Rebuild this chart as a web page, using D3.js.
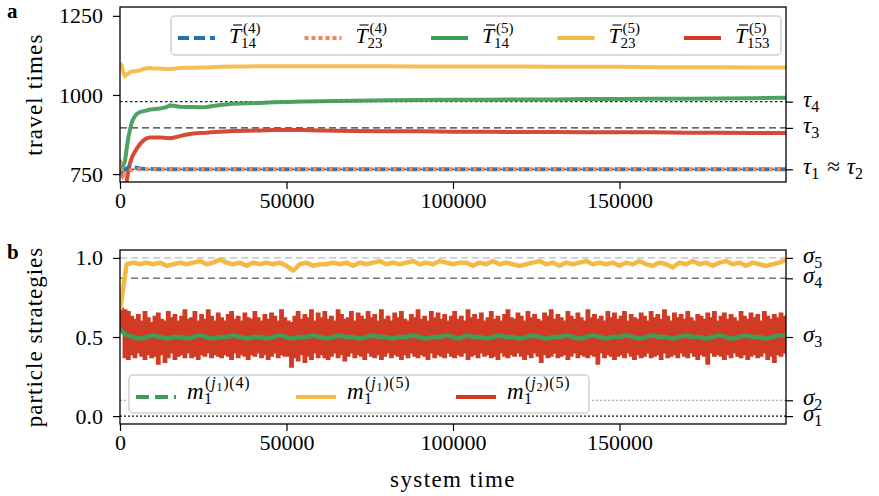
<!DOCTYPE html>
<html>
<head>
<meta charset="utf-8">
<script src="https://cdn.jsdelivr.net/npm/d3@7"></script>
<style>
  body { margin: 0; background: #fff; }
</style>
</head>
<body>
<svg id="chart" width="879" height="496"></svg>
<script>
// ---- panel a: running mean travel times ----
const tTop = [0, 500, 1000, 1500, 2000, 2500, 3000, 3500, 4000, 5000, 6000, 7000, 8000, 9000, 10000,
  12000, 14000, 15000, 16000, 18000, 20000, 22000, 24000, 26000, 28000, 30000, 34000, 38000, 42000,
  46000, 50000, 55000, 60000, 65000, 70000, 80000, 90000, 100000, 110000, 120000, 130000, 140000,
  150000, 160000, 170000, 180000, 190000, 200000];

const T14_4 = [765, 760, 762, 764, 768, 769, 770, 771, 771, 770, 768, 767, 766, 766, 766,
  765, 765, 765, 765, 765, 765, 765, 765, 765, 765, 765, 765, 765, 765,
  765, 765, 765, 765, 765, 765, 765, 765, 765, 765, 765, 765, 765,
  765, 765, 765, 765, 765, 765];
const T23_4 = [795, 770, 745, 752, 758, 760, 762, 763, 764, 765, 765, 765, 765, 765, 765,
  765, 765, 765, 765, 765, 765, 765, 765, 765, 765, 765, 765, 765, 765,
  765, 765, 765, 765, 765, 765, 765, 765, 765, 765, 765, 765, 765,
  765, 765, 765, 765, 765, 765];
const T14_5 = [770, 755, 780, 790, 830, 865, 890, 912, 925, 940, 946, 949, 951, 954, 955,
  957, 962, 967, 966, 963, 962, 962, 961, 962, 965, 968, 972, 974, 975,
  977, 978, 979, 980, 981, 982, 983, 984, 985, 985, 986, 986, 987,
  987, 988, 988, 989, 990, 991];
const T23_5 = [1100, 1095, 1070, 1060, 1065, 1068, 1072, 1074, 1075, 1076, 1078, 1082, 1084, 1085, 1084,
  1084, 1082, 1082, 1083, 1085, 1086, 1086, 1087, 1087, 1088, 1089, 1090, 1090, 1091,
  1091, 1091, 1091, 1091, 1091, 1091, 1091, 1090, 1090, 1090, 1090, 1089, 1089,
  1089, 1088, 1088, 1088, 1087, 1087];
const T153_5 = [600, 620, 660, 700, 728, 760, 785, 800, 812, 830, 845, 856, 863, 866, 866,
  866, 864, 863, 865, 870, 875, 878, 880, 881, 883, 884, 886, 887, 888,
  889, 889, 889, 888, 887, 886, 885, 885, 884, 884, 883, 883, 882,
  882, 882, 881, 881, 880, 880];

const tauValues = [979, 896, 765];

// ---- panel b: particle strategies ----
const tStrat = d3.range(0, 200001, 2000);   // sample times, 101 points
const m1j1_4 = [0.55, 0.51, 0.50, 0.49, 0.50, 0.51, 0.50, 0.49, 0.50, 0.50,
  0.49, 0.50, 0.51, 0.50, 0.49, 0.50, 0.50, 0.51, 0.50, 0.49,
  0.50, 0.50, 0.49, 0.50, 0.51, 0.50, 0.49, 0.50, 0.50, 0.51,
  0.50, 0.49, 0.50, 0.51, 0.50, 0.50, 0.49, 0.50, 0.51, 0.50,
  0.50, 0.49, 0.50, 0.50, 0.51, 0.50, 0.49, 0.50, 0.50, 0.51,
  0.50, 0.49, 0.51, 0.50, 0.50, 0.49, 0.50, 0.51, 0.50, 0.50,
  0.49, 0.50, 0.51, 0.50, 0.49, 0.50, 0.50, 0.51, 0.50, 0.49,
  0.50, 0.51, 0.50, 0.49, 0.50, 0.50, 0.51, 0.50, 0.49, 0.50,
  0.51, 0.50, 0.50, 0.49, 0.50, 0.51, 0.50, 0.50, 0.49, 0.50,
  0.51, 0.50, 0.49, 0.50, 0.51, 0.50, 0.50, 0.49, 0.50, 0.51, 0.51];
const m1j1_5 = [0.67, 0.96, 0.97, 0.96, 0.97, 0.96, 0.97, 0.95, 0.96, 0.97,
  0.96, 0.97, 0.98, 0.96, 0.97, 0.99, 0.97, 0.96, 0.97, 0.95,
  0.97, 0.96, 0.97, 0.96, 0.97, 0.95, 0.92, 0.96, 0.97, 0.95,
  0.96, 0.96, 0.97, 0.96, 0.97, 0.95, 0.97, 0.96, 0.97, 0.98,
  0.96, 0.97, 0.96, 0.97, 0.98, 0.96, 0.97, 0.96, 0.98, 0.97,
  0.96, 0.97, 0.97, 0.95, 0.97, 0.96, 0.98, 0.96, 0.97, 0.96,
  0.95, 0.96, 0.97, 0.98, 0.96, 0.97, 0.95, 0.97, 0.96, 0.97,
  0.98, 0.96, 0.97, 0.96, 0.97, 0.95, 0.97, 0.96, 0.98, 0.96,
  0.95, 0.97, 0.96, 0.94, 0.97, 0.96, 0.98, 0.96, 0.97, 0.95,
  0.97, 0.98, 0.96, 0.97, 0.95, 0.97, 0.96, 0.95, 0.96, 0.97, 0.99];

// m1^(j2)(5) fluctuates fast: upper and lower envelope read per 1000 time units
const tRed = d3.range(0, 200001, 1000);
const m1j2_5hi = [0.68, 0.67, 0.66, 0.63, 0.61, 0.64, 0.60, 0.66, 0.62, 0.59,
  0.63, 0.65, 0.61, 0.60, 0.66, 0.62, 0.64, 0.60, 0.63, 0.67,
  0.61, 0.62, 0.66, 0.60, 0.64, 0.61, 0.67, 0.63, 0.60, 0.65,
  0.62, 0.60, 0.64, 0.66, 0.61, 0.63, 0.60, 0.65, 0.62, 0.61,
  0.66, 0.62, 0.60, 0.64, 0.61, 0.65, 0.63, 0.60, 0.67, 0.62,
  0.60, 0.59, 0.63, 0.66, 0.61, 0.64, 0.62, 0.67, 0.60, 0.65,
  0.62, 0.66, 0.61, 0.63, 0.60, 0.67, 0.64, 0.61, 0.62, 0.66,
  0.60, 0.65, 0.63, 0.61, 0.66, 0.62, 0.64, 0.60, 0.67, 0.61,
  0.63, 0.60, 0.65, 0.62, 0.66, 0.61, 0.60, 0.64, 0.62, 0.67,
  0.61, 0.63, 0.60, 0.66, 0.62, 0.65, 0.61, 0.64, 0.60, 0.63,
  0.66, 0.61, 0.63, 0.60, 0.67, 0.62, 0.64, 0.61, 0.65, 0.60,
  0.62, 0.66, 0.61, 0.63, 0.60, 0.64, 0.67, 0.62, 0.61, 0.65,
  0.63, 0.60, 0.66, 0.62, 0.64, 0.61, 0.60, 0.65, 0.63, 0.67,
  0.61, 0.64, 0.62, 0.60, 0.66, 0.63, 0.61, 0.65, 0.62, 0.60,
  0.67, 0.62, 0.64, 0.61, 0.63, 0.60, 0.66, 0.62, 0.65, 0.61,
  0.63, 0.66, 0.60, 0.64, 0.62, 0.61, 0.65, 0.63, 0.60, 0.66,
  0.62, 0.64, 0.61, 0.67, 0.63, 0.60, 0.65, 0.62, 0.64, 0.61,
  0.66, 0.62, 0.60, 0.64, 0.63, 0.61, 0.65, 0.62, 0.66, 0.60,
  0.63, 0.65, 0.61, 0.64, 0.62, 0.60, 0.66, 0.63, 0.61, 0.65,
  0.62, 0.64, 0.60, 0.66, 0.63, 0.61, 0.64, 0.62, 0.65, 0.63, 0.64];
const m1j2_5lo = [0.54, 0.37, 0.36, 0.39, 0.37, 0.40, 0.38, 0.36, 0.39, 0.37,
  0.38, 0.33, 0.39, 0.34, 0.37, 0.40, 0.36, 0.38, 0.39, 0.37,
  0.40, 0.37, 0.38, 0.36, 0.39, 0.38, 0.40, 0.37, 0.39, 0.38,
  0.37, 0.39, 0.38, 0.36, 0.40, 0.37, 0.39, 0.38, 0.36, 0.39,
  0.38, 0.40, 0.37, 0.39, 0.36, 0.38, 0.40, 0.37, 0.39, 0.38,
  0.38, 0.31, 0.37, 0.35, 0.39, 0.34, 0.38, 0.36, 0.40, 0.37,
  0.39, 0.37, 0.36, 0.38, 0.40, 0.37, 0.39, 0.35, 0.38, 0.40,
  0.37, 0.39, 0.38, 0.36, 0.40, 0.38, 0.37, 0.39, 0.36, 0.38,
  0.40, 0.37, 0.39, 0.38, 0.36, 0.39, 0.37, 0.40, 0.38, 0.37,
  0.39, 0.38, 0.36, 0.40, 0.37, 0.39, 0.38, 0.37, 0.40, 0.38,
  0.37, 0.39, 0.38, 0.40, 0.36, 0.38, 0.39, 0.37, 0.40, 0.38,
  0.39, 0.37, 0.38, 0.36, 0.40, 0.38, 0.37, 0.39, 0.38, 0.40,
  0.38, 0.36, 0.39, 0.37, 0.40, 0.38, 0.34, 0.39, 0.37, 0.38,
  0.40, 0.37, 0.38, 0.39, 0.36, 0.38, 0.40, 0.37, 0.39, 0.38,
  0.37, 0.39, 0.38, 0.33, 0.40, 0.37, 0.39, 0.38, 0.36, 0.38,
  0.39, 0.37, 0.40, 0.38, 0.36, 0.39, 0.37, 0.38, 0.40, 0.37,
  0.38, 0.39, 0.36, 0.40, 0.37, 0.38, 0.39, 0.37, 0.40, 0.38,
  0.37, 0.40, 0.38, 0.36, 0.39, 0.38, 0.33, 0.40, 0.38, 0.39,
  0.38, 0.36, 0.39, 0.37, 0.40, 0.38, 0.37, 0.39, 0.36, 0.38,
  0.39, 0.37, 0.38, 0.40, 0.36, 0.38, 0.34, 0.39, 0.38, 0.40, 0.38];

const sigmaValues = [1.0, 0.871, 0.5, 0.1, 0.0];

const xTicks = [0, 50000, 100000, 150000];

const colors = {
  blue: "#2070b2", orange: "#f3865f", green: "#3f9b57", yellow: "#f4b942", red: "#d13b24"
};
const FONT = "'Liberation Serif'";

const svg = d3.select("#chart");
const x0 = 120, x1 = 786;
const x = d3.scaleLinear().domain([0, 200000]).range([x0, x1]);
const yA = d3.scaleLinear().domain([725, 1278]).range([182, 7]);
const yB = d3.scaleLinear().domain([-0.05, 1.05]).range([424, 250]);

const defs = svg.append("defs");
defs.append("clipPath").attr("id", "clipA").append("rect")
  .attr("x", x0).attr("y", 7).attr("width", x1 - x0).attr("height", 175);
defs.append("clipPath").attr("id", "clipB").append("rect")
  .attr("x", x0).attr("y", 250).attr("width", x1 - x0).attr("height", 174);

function styleAxis(g) {
  g.attr("font-family", null);
  g.select(".domain").remove();
  g.selectAll(".tick line").attr("stroke", "#000").attr("stroke-width", 1.2);
  g.selectAll(".tick text").attr("font-size", 22).attr("fill", "#000");
}

function drawAxes(yScale, yTicks, yFmt, top, bottom, rightVals) {
  svg.append("g").attr("transform", `translate(0,${bottom})`)
    .call(d3.axisBottom(x).tickValues(xTicks).tickFormat(d3.format("d")).tickSize(7).tickPadding(3))
    .call(styleAxis);
  svg.append("g").attr("transform", `translate(${x0},0)`)
    .call(d3.axisLeft(yScale).tickValues(yTicks).tickFormat(yFmt).tickSize(7).tickPadding(10))
    .call(styleAxis);
  svg.append("g").attr("transform", `translate(${x1},0)`)
    .call(d3.axisRight(yScale).tickValues(rightVals).tickFormat("").tickSize(7))
    .call(styleAxis);
  svg.append("rect").attr("x", x0).attr("y", top).attr("width", x1 - x0).attr("height", bottom - top)
    .attr("fill", "none").attr("stroke", "#000").attr("stroke-width", 1.3);
}

function hline(g, yScale, v, color, dash, w) {
  g.append("line").attr("x1", x0).attr("x2", x1)
    .attr("y1", yScale(v)).attr("y2", yScale(v))
    .attr("stroke", color).attr("stroke-width", w).attr("stroke-dasharray", dash);
}

// ---------- panel a ----------
const gA = svg.append("g").attr("clip-path", "url(#clipA)");
hline(gA, yA, tauValues[0], "#222", "2.5,2.5", 1.3);
hline(gA, yA, tauValues[1], "#333", "7,4", 1.3);
hline(gA, yA, tauValues[2], "#111", "2,2", 1.3);

const lineA = vals => d3.line().x((d, i) => x(tTop[i])).y(d => yA(d))(vals);
const seriesA = [
  { vals: T14_5, color: colors.green, dash: null },
  { vals: T23_5, color: colors.yellow, dash: null },
  { vals: T153_5, color: colors.red, dash: null },
  { vals: T14_4, color: colors.blue, dash: "11,5" },
  { vals: T23_4, color: colors.orange, dash: "4,4" }
];
seriesA.forEach(s => {
  gA.append("path").attr("d", lineA(s.vals)).attr("fill", "none")
    .attr("stroke", s.color).attr("stroke-width", 4).attr("stroke-opacity", 0.92)
    .attr("stroke-dasharray", s.dash);
});
drawAxes(yA, [750, 1000, 1250], d3.format("d"), 7, 182, tauValues);

// ---------- panel b ----------
const gB = svg.append("g").attr("clip-path", "url(#clipB)");
hline(gB, yB, sigmaValues[0], "#bbb", "7,4", 1.3);
hline(gB, yB, sigmaValues[1], "#777", "7,4", 1.4);
hline(gB, yB, sigmaValues[3], "#999", "2,2", 1);
hline(gB, yB, sigmaValues[4], "#111", "2,2", 1.3);

gB.append("path")
  .attr("d", d3.area().curve(d3.curveStepAfter)
    .x((d, i) => x(tRed[i])).y0((d, i) => yB(m1j2_5lo[i])).y1(d => yB(d))(m1j2_5hi))
  .attr("fill", colors.red).attr("stroke", colors.red).attr("stroke-width", 1.5);

const lineB = vals => d3.line().x((d, i) => x(tStrat[i])).y(d => yB(d))(vals);
gB.append("path").attr("d", lineB(m1j1_5)).attr("fill", "none")
  .attr("stroke", colors.yellow).attr("stroke-width", 4.5).attr("stroke-linejoin", "round");
gB.append("path").attr("d", lineB(m1j1_4)).attr("fill", "none")
  .attr("stroke", colors.green).attr("stroke-width", 4.5).attr("stroke-linejoin", "round");

drawAxes(yB, [0, 0.5, 1.0], d3.format(".1f"), 250, 424, sigmaValues);

// ---------- right-hand labels ----------
function greek(yPos, parts) {
  const t = svg.append("text").attr("x", 803).attr("y", yPos + 5).attr("font-size", 23);
  let lowered = false;
  parts.forEach(p => {
    if (p.sub) {
      t.append("tspan").attr("font-size", 16).attr("dy", lowered ? 0 : 5).text(p.sub);
      lowered = true;
    } else {
      t.append("tspan").attr("font-style", p.it ? "italic" : null)
        .attr("dx", p.gap || 0).attr("dy", lowered ? -5 : 0).text(p.t);
      lowered = false;
    }
  });
}
greek(yA(tauValues[0]), [{ t: "τ", it: true }, { sub: "4" }]);
greek(yA(tauValues[1]), [{ t: "τ", it: true }, { sub: "3" }]);
greek(yA(tauValues[2]), [{ t: "τ", it: true }, { sub: "1" }, { t: "≈", gap: 8 },
  { t: "τ", it: true, gap: 7 }, { sub: "2" }]);
["5", "4", "3", "2", "1"].forEach((k, i) => {
  greek(yB(sigmaValues[i]), [{ t: "σ", it: true }, { sub: k }]);
});

// ---------- axis titles and panel letters ----------
svg.append("text").attr("transform", "translate(42,94.5) rotate(-90)")
  .attr("text-anchor", "middle").attr("font-size", 23).attr("letter-spacing", 1.2)
  .text("travel times");
svg.append("text").attr("transform", "translate(42,337) rotate(-90)")
  .attr("text-anchor", "middle").attr("font-size", 23).attr("letter-spacing", 1.0)
  .text("particle strategies");
svg.append("text").attr("x", (x0 + x1) / 2).attr("y", 487)
  .attr("text-anchor", "middle").attr("font-size", 23).attr("letter-spacing", 1.4).text("system time");
svg.append("text").attr("x", 7).attr("y", 18).attr("font-size", 21).attr("font-weight", "bold").text("a");
svg.append("text").attr("x", 7).attr("y", 259).attr("font-size", 21).attr("font-weight", "bold").text("b");

// ---------- legends ----------
function legendBox(bx, by, bw, bh) {
  svg.append("rect").attr("x", bx).attr("y", by).attr("width", bw).attr("height", bh)
    .attr("rx", 4).attr("fill", "#fff").attr("fill-opacity", 0.9)
    .attr("stroke", "#d0d0d0").attr("stroke-width", 1.5);
}
function legendLine(lx, ly, len, color, dash) {
  svg.append("line").attr("x1", lx).attr("x2", lx + len).attr("y1", ly).attr("y2", ly)
    .attr("stroke", color).attr("stroke-width", 4).attr("stroke-dasharray", dash);
}
function barT(tx, ty, sub, sup) {
  svg.append("text").attr("x", tx).attr("y", ty).attr("font-size", 22).attr("font-style", "italic").text("T");
  svg.append("line").attr("x1", tx + 4).attr("x2", tx + 13).attr("y1", ty - 18).attr("y2", ty - 18)
    .attr("stroke", "#000").attr("stroke-width", 1.1);
  svg.append("text").attr("x", tx + 14).attr("y", ty - 10).attr("font-size", 15).text(sup);
  svg.append("text").attr("x", tx + 12).attr("y", ty + 5).attr("font-size", 15).text(sub);
}
function mLabel(tx, ty, j, n) {
  svg.append("text").attr("x", tx).attr("y", ty).attr("font-size", 23).attr("font-style", "italic").text("m");
  svg.append("text").attr("x", tx + 17).attr("y", ty + 5).attr("font-size", 16).text("1");
  const s = svg.append("text").attr("x", tx + 18).attr("y", ty - 11).attr("font-size", 16)
    .attr("letter-spacing", 0.8);
  s.append("tspan").text("(");
  s.append("tspan").attr("font-style", "italic").text("j");
  s.append("tspan").attr("font-size", 12).attr("dy", 3).text(j);
  s.append("tspan").attr("dy", -3).text(")(" + n + ")");
}

const legendA = [
  { color: colors.blue, dash: "11,5", sub: "14", sup: "(4)" },
  { color: colors.orange, dash: "4,3", sub: "23", sup: "(4)" },
  { color: colors.green, dash: null, sub: "14", sup: "(5)" },
  { color: colors.yellow, dash: null, sub: "23", sup: "(5)" },
  { color: colors.red, dash: null, sub: "153", sup: "(5)" }
];
legendBox(171, 16, 610, 39);
legendA.forEach((d, i) => {
  const lx = 178 + i * 126.5;
  legendLine(lx, 38, 37, d.color, d.dash);
  barT(lx + 51, 43, d.sub, d.sup);
});

const legendB = [
  { color: colors.green, dash: "13,6", j: "1", n: "4" },
  { color: colors.yellow, dash: null, j: "1", n: "5" },
  { color: colors.red, dash: null, j: "2", n: "5" }
];
legendBox(129, 375, 460, 38);
legendB.forEach((d, i) => {
  const lx = 136 + i * 160;
  legendLine(lx, 397, 40, d.color, d.dash);
  mLabel(lx + 51, 399, d.j, d.n);
});

// one serif face for every label
svg.selectAll("text").style("font-family", FONT);
</script>
</body>
</html>
